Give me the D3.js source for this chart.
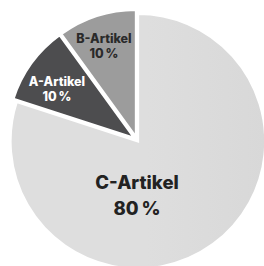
<!DOCTYPE html>
<html>
<head>
<meta charset="utf-8">
<script src="https://cdn.jsdelivr.net/npm/d3@7"></script>
<style>
  html, body { margin: 0; padding: 0; background: #fff; }
  svg { display: block; }
</style>
</head>
<body>
<script>
var categories = ["C-Artikel", "A-Artikel", "B-Artikel"];
var values = [80, 10, 10];
var percentLabels = ["80\u202f%", "10\u202f%", "10\u202f%"];

var w = 264, h = 266;
var cx = 137, cy = 140, r = 127.5;

// per slice look (gradient from left to right), text colour, explode, label placement
var gradStops = [["#dedede", "#d1d1d1"], ["#4d4d4f", "#1c1c1c"], ["#9c9c9c", "#8a8a8a"]];
var textColor = ["#222", "#fff", "#2a2a2a"];
var explode = [1.5, 3, 3];
var labelAngle = [Math.PI, null, null];
var labelRadius = [49, 96.5, 102.5];
var labelShift = [0, -0.035, -0.014];
var fontSize = [18.5, 12.5, 12.5];
var lineGap = [26, 15, 15];

var svg = d3.select("body")
            .append("svg")
            .attr("width", w)
            .attr("height", h);

var defs = svg.append("defs");
gradStops.forEach(function(s, i) {
  var g = defs.append("linearGradient")
              .attr("id", "g" + i)
              .attr("gradientUnits", "userSpaceOnUse")
              .attr("x1", cx - r).attr("x2", cx + r)
              .attr("y1", 0).attr("y2", 0);
  g.append("stop").attr("offset", "0%").attr("stop-color", s[0]);
  g.append("stop").attr("offset", "100%").attr("stop-color", s[1]);
});

var pie = d3.pie().sort(null);
var arcs = pie(values);
var arc = d3.arc().innerRadius(0).outerRadius(r);

var g = svg.append("g").attr("transform", "translate(" + cx + "," + cy + ")");

g.selectAll("path")
  .data(arcs)
  .enter()
  .append("path")
  .attr("d", arc)
  .attr("transform", function(d, i) {
    var a = (d.startAngle + d.endAngle) / 2;
    return "translate(" + (Math.sin(a) * explode[i]) + "," + (-Math.cos(a) * explode[i]) + ")";
  })
  .attr("fill", function(d, i) { return "url(#g" + i + ")"; })
  .attr("stroke", "#fff")
  .attr("stroke-width", 2.5)
  .attr("stroke-linejoin", "miter");

var labels = g.selectAll("g.lbl")
  .data(arcs)
  .enter()
  .append("g")
  .attr("class", "lbl")
  .attr("transform", function(d, i) {
    var a = labelAngle[i] != null ? labelAngle[i] : (d.startAngle + d.endAngle) / 2 + labelShift[i];
    return "translate(" + (Math.sin(a) * labelRadius[i]) + "," + (-Math.cos(a) * labelRadius[i]) + ")";
  });

labels.append("text")
  .text(function(d, i) { return categories[i]; })
  .attr("text-anchor", "middle")
  .attr("y", 0)
  .attr("font-family", "Inter, 'Open Sans', sans-serif")
  .attr("font-weight", 800)
  .attr("font-size", function(d, i) { return fontSize[i] + "px"; })
  .attr("fill", function(d, i) { return textColor[i]; });

labels.append("text")
  .text(function(d, i) { return percentLabels[i]; })
  .attr("text-anchor", "middle")
  .attr("y", function(d, i) { return lineGap[i]; })
  .attr("font-family", "Inter, 'Open Sans', sans-serif")
  .attr("font-weight", 800)
  .attr("font-size", function(d, i) { return fontSize[i] + "px"; })
  .attr("fill", function(d, i) { return textColor[i]; });
</script>
</body>
</html>
